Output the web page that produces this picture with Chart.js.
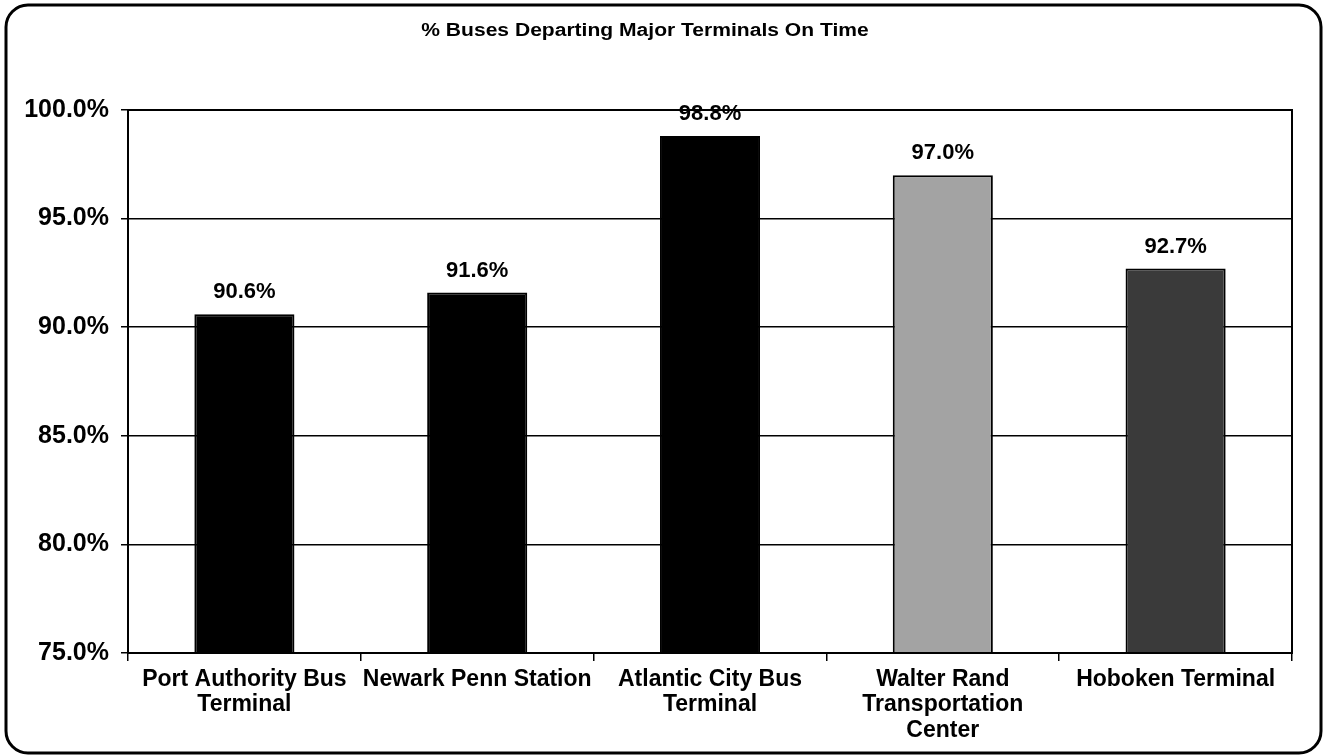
<!DOCTYPE html>
<html>
<head>
<meta charset="utf-8">
<title>% Buses Departing Major Terminals On Time</title>
<script src="https://cdn.jsdelivr.net/npm/chart.js@4/dist/chart.umd.min.js"></script>
<style>
    html, body { margin: 0; padding: 0; background: #fff; }
    #wrap { width: 1324px; height: 756px; }
</style>
</head>
<body>
<div id="wrap"><canvas id="terminal-chart" width="1324" height="756"></canvas></div>
<script>
const terminals = [
    ['Port Authority Bus', 'Terminal'],
    'Newark Penn Station',
    ['Atlantic City Bus', 'Terminal'],
    ['Walter Rand', 'Transportation', 'Center'],
    'Hoboken Terminal'
];
const onTimePct = [90.6, 91.6, 98.8, 97.0, 92.7];
const barColors = ['#000000', '#000000', '#000000', '#a3a3a3', '#3a3a3a'];
const chartTitle = '% Buses Departing Major Terminals On Time';

const fontFamily = '"Liberation Sans", Arial, sans-serif';

// rounded outer frame, title, plot frame and the value labels
const decorations = {
    id: 'decorations',
    beforeDraw(chart) {
        const ctx = chart.ctx;
        ctx.save();
        ctx.fillStyle = '#fff';
        ctx.fillRect(0, 0, chart.width, chart.height);
        ctx.strokeStyle = '#000';
        ctx.lineWidth = 3;
        ctx.beginPath();
        ctx.roundRect(6, 5, chart.width - 9, chart.height - 8, 22);
        ctx.stroke();

        // title is a bit wider than the font, stretch it sideways
        ctx.fillStyle = '#000';
        ctx.font = 'bold 18px ' + fontFamily;
        ctx.textAlign = 'center';
        ctx.textBaseline = 'middle';
        ctx.translate(645, 31);
        ctx.scale(1.17, 1);
        ctx.fillText(chartTitle, 0, 0);
        ctx.restore();
    },
    afterDatasetsDraw(chart) {
        const ctx = chart.ctx;
        const area = chart.chartArea;
        ctx.save();
        ctx.strokeStyle = '#000';
        ctx.lineWidth = 2;
        ctx.strokeRect(area.left, area.top, area.right - area.left, area.bottom - area.top);

        ctx.fillStyle = '#000';
        ctx.font = 'bold 22px ' + fontFamily;
        ctx.textAlign = 'center';
        ctx.textBaseline = 'bottom';
        chart.getDatasetMeta(0).data.forEach(function(bar, i) {
            ctx.fillText(onTimePct[i].toFixed(1) + '%', bar.x, bar.y - 11);
        });
        ctx.restore();
    }
};

const ctx = document.getElementById('terminal-chart').getContext('2d');
new Chart(ctx, {
    type: 'bar',
    data: {
        labels: terminals,
        datasets: [{
            label: chartTitle,
            data: onTimePct,
            backgroundColor: barColors,
            borderColor: '#000',
            borderWidth: 2,
            borderSkipped: false,
            categoryPercentage: 1,
            barPercentage: 0.43
        }]
    },
    options: {
        responsive: false,
        animation: false,
        layout: { padding: { top: 110, left: 9, right: 32, bottom: 0 } },
        plugins: {
            legend: { display: false },
            tooltip: { enabled: false },
            title: { display: false }
        },
        scales: {
            x: {
                grid: {
                    display: true,
                    drawOnChartArea: false,
                    drawTicks: true,
                    tickLength: 8,
                    color: '#000',
                    lineWidth: 1.5
                },
                border: { color: '#000', width: 2 },
                ticks: {
                    color: '#000',
                    padding: 6,
                    maxRotation: 0,
                    autoSkip: false,
                    font: { family: fontFamily, size: 23, weight: 'bold', lineHeight: 1.1 }
                },
                afterFit(scale) { scale.height = 103; }
            },
            y: {
                min: 75,
                max: 100,
                grid: {
                    color: '#000',
                    lineWidth: 1.5,
                    drawTicks: true,
                    tickLength: 7
                },
                border: { color: '#000', width: 2 },
                ticks: {
                    stepSize: 5,
                    color: '#000',
                    padding: 12,
                    font: { family: fontFamily, size: 25, weight: 'bold' },
                    callback: function(value) { return value.toFixed(1) + '%'; }
                },
                afterFit(scale) { scale.width = 119; }
            }
        }
    },
    plugins: [decorations]
});
</script>
</body>
</html>
